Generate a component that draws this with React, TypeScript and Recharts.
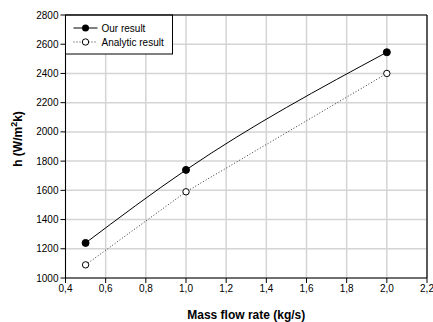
import { LineChart, Line, XAxis, YAxis, CartesianGrid, ReferenceLine, Customized } from 'recharts'

const flowRates = [0.5, 1.0, 2.0]
const ourResult = [1240, 1740, 2545]
const analyticResult = [1090, 1590, 2400]

const xTicks = [0.4, 0.6, 0.8, 1.0, 1.2, 1.4, 1.6, 1.8, 2.0, 2.2]
const yTicks = [1000, 1200, 1400, 1600, 1800, 2000, 2200, 2400, 2600, 2800]

const FONT = '"Liberation Sans", Arial, sans-serif'

const data = flowRates.map((x, i) => ({
  x,
  our: ourResult[i],
  analytic: analyticResult[i]
}))

// legend box drawn inside the plot's top-left corner
function LegendBox() {
  return (
    <g transform="translate(65.5,15)">
      <rect x={0} y={0} width={107} height={39} fill="#fff" stroke="#000" />
      <line x1={8} y1={13} x2={32} y2={13} stroke="#000" />
      <circle cx={20} cy={13} r={3.5} fill="#000" />
      <text x={36} y={17} fontSize={10} fontFamily={FONT} fill="#000">Our result</text>
      <line x1={8} y1={27} x2={32} y2={27} stroke="#333" strokeDasharray="1 2" />
      <circle cx={20} cy={27} r={3.2} fill="#fff" stroke="#000" />
      <text x={36} y={31} fontSize={10} fontFamily={FONT} fill="#000">Analytic result</text>
    </g>
  )
}

function YTitle() {
  return (
    <text
      transform="translate(22,139) rotate(-90)"
      textAnchor="middle"
      fontSize={12}
      fontWeight="bold"
      fontFamily={FONT}
      fill="#000"
    >
      h (W/m<tspan dy={-5} fontSize={9}>2</tspan><tspan dy={5}>k)</tspan>
    </text>
  )
}

export default function App() {
  return (
    <div style={{ position: 'absolute', left: 0, top: 0, background: '#fff' }}>
      <LineChart width={433} height={322} data={data} margin={{ top: 15, right: 6, bottom: 0, left: 0 }}>
        <CartesianGrid stroke="#d4d4d4" strokeWidth={1.5} />
        <XAxis
          dataKey="x"
          type="number"
          domain={[0.4, 2.2]}
          ticks={xTicks}
          interval={0}
          tickFormatter={(v: number) => v.toFixed(1).replace('.', ',')}
          height={44}
          stroke="#000"
          tickSize={5}
          tick={{ fill: '#000', fontSize: 10, fontFamily: FONT }}
          label={{ value: 'Mass flow rate (kg/s)', position: 'insideBottom', offset: 3, fill: '#000', fontSize: 12, fontWeight: 'bold', fontFamily: FONT }}
        />
        <YAxis
          type="number"
          domain={[1000, 2800]}
          ticks={yTicks}
          interval={0}
          width={65.5}
          stroke="#000"
          tickSize={5}
          tick={{ fill: '#000', fontSize: 10, fontFamily: FONT }}
          label={<YTitle />}
        />
        <ReferenceLine y={2800} stroke="#000" strokeWidth={1.2} />
        <ReferenceLine x={2.2} stroke="#000" strokeWidth={1.2} />
        <Line
          type="monotone"
          dataKey="our"
          stroke="#000"
          strokeWidth={1}
          dot={{ r: 3.5, fill: '#000', stroke: '#000', strokeWidth: 1 }}
          isAnimationActive={false}
        />
        <Line
          type="linear"
          dataKey="analytic"
          stroke="#333"
          strokeWidth={1}
          strokeDasharray="1 2"
          dot={{ r: 3.2, fill: '#fff', stroke: '#000', strokeWidth: 1, strokeDasharray: '' }}
          isAnimationActive={false}
        />
        <Customized component={LegendBox} />
      </LineChart>
    </div>
  )
}
